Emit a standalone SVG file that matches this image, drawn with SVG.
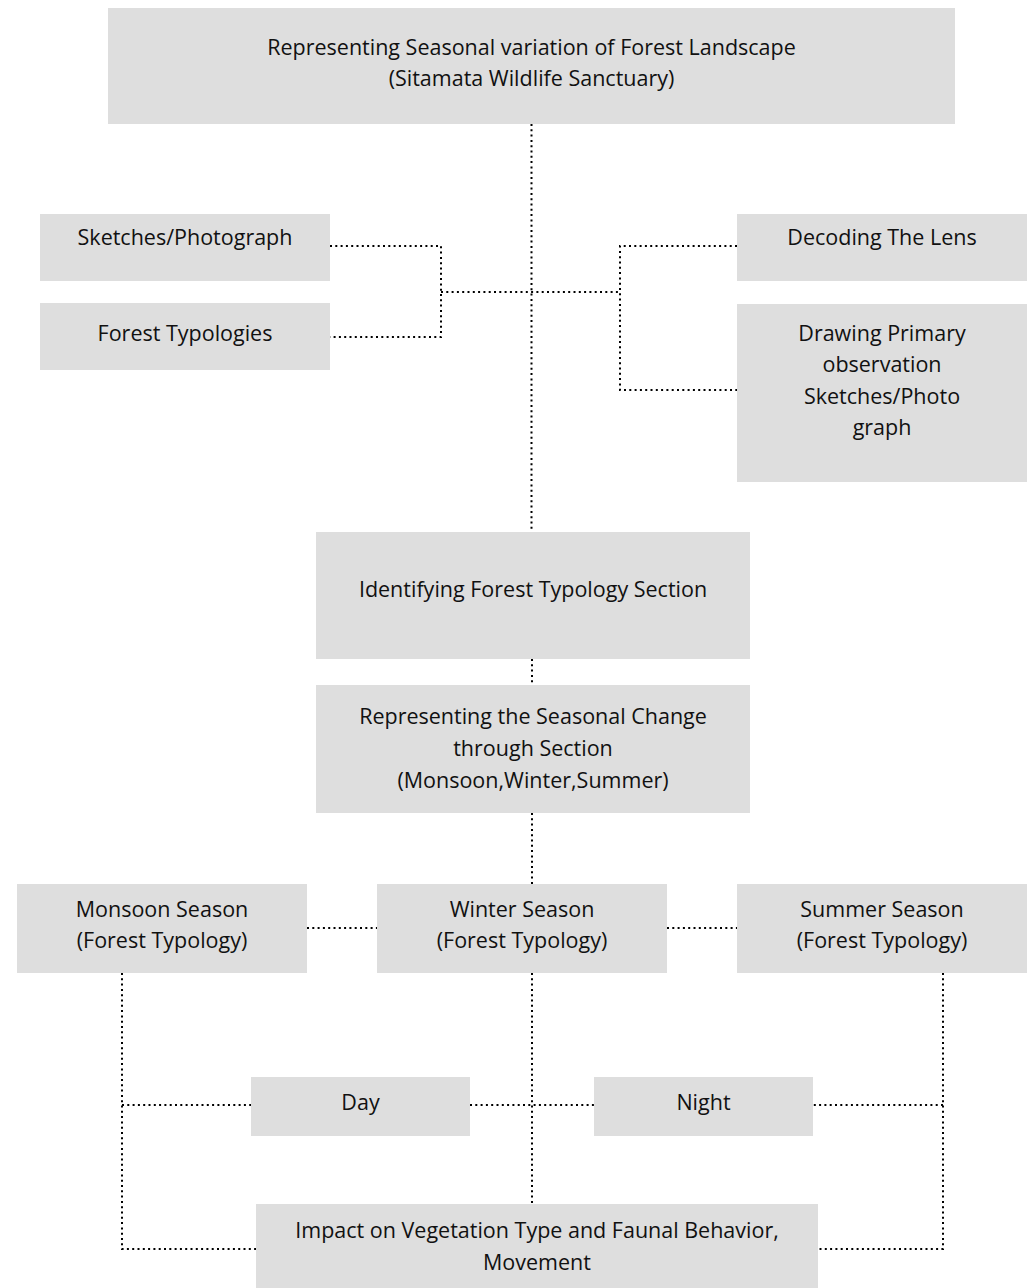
<svg xmlns="http://www.w3.org/2000/svg" width="1033" height="1288" viewBox="0 0 1033 1288">
<style>
.box{fill:#dedede;}
.t{font-family:"Open Sans","Noto Sans","Liberation Sans",sans-serif;font-size:21.5px;fill:#111;text-anchor:middle;}
.c{fill:none;stroke:#000;stroke-width:2;stroke-dasharray:2 3.3;}
</style>
<rect width="1033" height="1288" fill="#fff"/>
<g id="connectors">
<path class="c" d="M531.5 124 V532"/>
<path class="c" d="M330 246 H441 V337 H330"/>
<path class="c" d="M441 292 H620"/>
<path class="c" d="M737 246 H620 V390 H737"/>
<path class="c" d="M532 659 V685"/>
<path class="c" d="M532 813 V884"/>
<path class="c" d="M307 928 H377"/>
<path class="c" d="M667 928 H737"/>
<path class="c" d="M532 973 V1204"/>
<path class="c" d="M470 1105 H594"/>
<path class="c" d="M122 973 V1249 H256"/>
<path class="c" d="M122 1105 H251"/>
<path class="c" d="M943 973 V1249 H818"/>
<path class="c" d="M943 1105 H813"/>
</g>
<g id="n-top">
<rect class="box" x="108" y="8" width="847" height="116"/>
<text class="t" x="531.5" y="55">Representing Seasonal variation of Forest Landscape</text>
<text class="t" x="531.5" y="86">(Sitamata Wildlife Sanctuary)</text>
</g>
<g id="n-sketches">
<rect class="box" x="40" y="214" width="290" height="67"/>
<text class="t" x="185" y="245">Sketches/Photograph</text>
</g>
<g id="n-typologies">
<rect class="box" x="40" y="303" width="290" height="67"/>
<text class="t" x="185" y="341">Forest Typologies</text>
</g>
<g id="n-decoding">
<rect class="box" x="737" y="214" width="290" height="67"/>
<text class="t" x="882" y="245">Decoding The Lens</text>
</g>
<g id="n-drawing">
<rect class="box" x="737" y="304" width="290" height="178"/>
<text class="t" x="882" y="341">Drawing Primary</text>
<text class="t" x="882" y="372">observation</text>
<text class="t" x="882" y="404">Sketches/Photo</text>
<text class="t" x="882" y="435">graph</text>
</g>
<g id="n-identifying">
<rect class="box" x="316" y="532" width="434" height="127"/>
<text class="t" x="533" y="597">Identifying Forest Typology Section</text>
</g>
<g id="n-representing">
<rect class="box" x="316" y="685" width="434" height="128"/>
<text class="t" x="533" y="724">Representing the Seasonal Change</text>
<text class="t" x="533" y="756">through Section</text>
<text class="t" x="533" y="788">(Monsoon,Winter,Summer)</text>
</g>
<g id="n-monsoon">
<rect class="box" x="17" y="884" width="290" height="89"/>
<text class="t" x="162" y="917">Monsoon Season</text>
<text class="t" x="162" y="948">(Forest Typology)</text>
</g>
<g id="n-winter">
<rect class="box" x="377" y="884" width="290" height="89"/>
<text class="t" x="522" y="917">Winter Season</text>
<text class="t" x="522" y="948">(Forest Typology)</text>
</g>
<g id="n-summer">
<rect class="box" x="737" y="884" width="290" height="89"/>
<text class="t" x="882" y="917">Summer Season</text>
<text class="t" x="882" y="948">(Forest Typology)</text>
</g>
<g id="n-day">
<rect class="box" x="251" y="1077" width="219" height="59"/>
<text class="t" x="360.5" y="1110">Day</text>
</g>
<g id="n-night">
<rect class="box" x="594" y="1077" width="219" height="59"/>
<text class="t" x="703.5" y="1110">Night</text>
</g>
<g id="n-impact">
<rect class="box" x="256" y="1204" width="562" height="84"/>
<text class="t" x="537" y="1238">Impact on Vegetation Type and Faunal Behavior,</text>
<text class="t" x="537" y="1270">Movement</text>
</g>
</svg>
